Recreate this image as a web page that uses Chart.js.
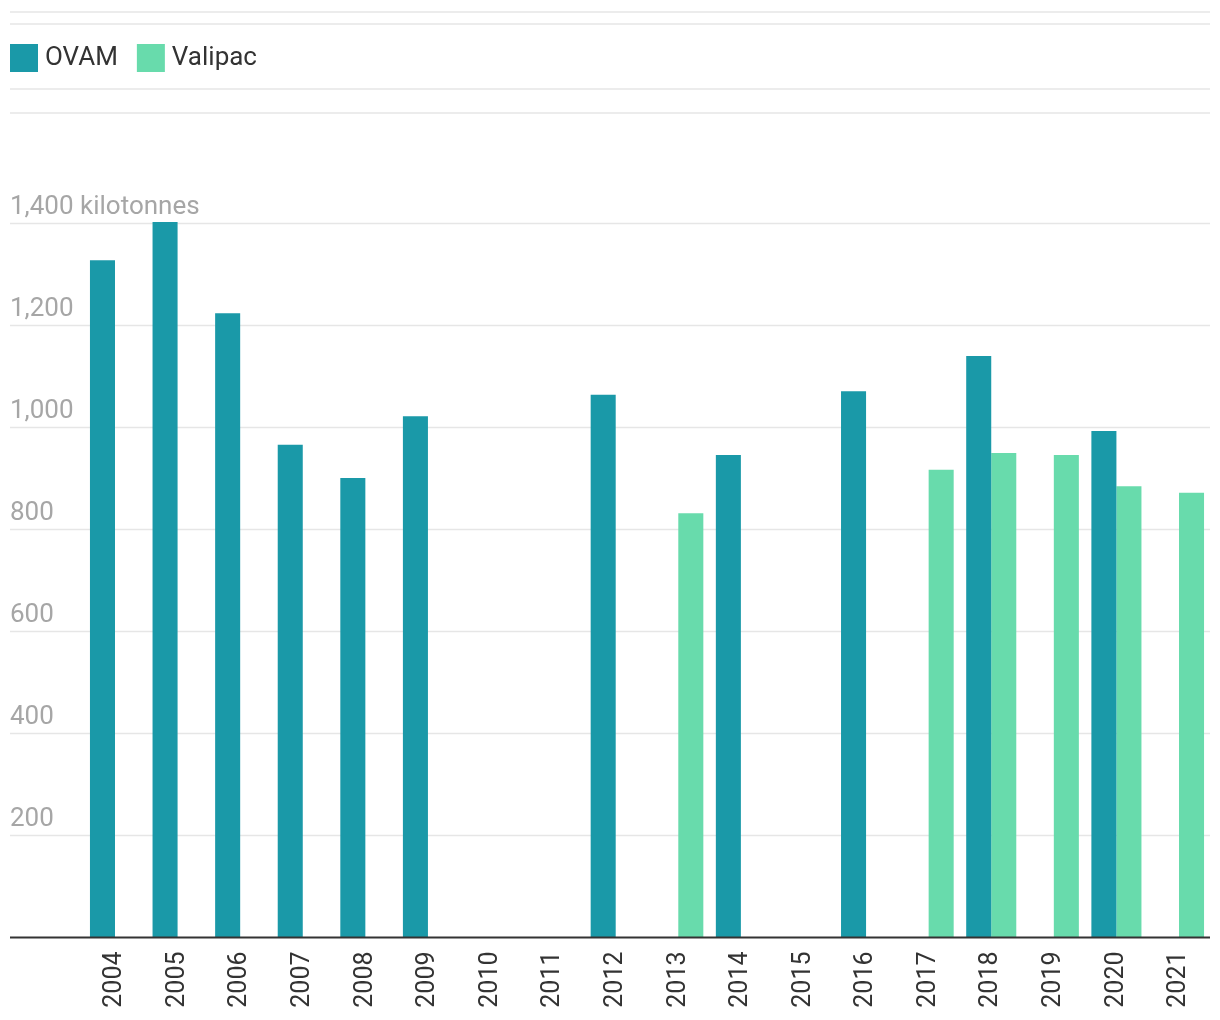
<!DOCTYPE html>
<html>
<head>
<meta charset="utf-8">
<script src="https://cdn.jsdelivr.net/npm/chart.js@4/dist/chart.umd.min.js"></script>
<style>
  html, body { margin: 0; padding: 0; background: #fff; }
  #wrap { width: 1220px; height: 1020px; position: relative; }
</style>
</head>
<body>
<div id="wrap"><canvas id="c" width="1220" height="1020"></canvas></div>
<script>
const categories = ['2004','2005','2006','2007','2008','2009','2010','2011','2012','2013','2014','2015','2016','2017','2018','2019','2020','2021'];
const ovamValues = [1328, 1403, 1224, 966, 901, 1022, null, null, 1064, null, 946, null, 1071, null, 1140, null, 993, null];
const valipacValues = [null, null, null, null, null, null, null, null, null, 832, null, null, null, 917, 950, 946, 885, 872];
const yTickValues = [200, 400, 600, 800, 1000, 1200, 1400];
const yTickLabels = ['200', '400', '600', '800', '1,000', '1,200', '1,400 kilotonnes'];
const seriesNames = ['OVAM', 'Valipac'];
const seriesColors = ['#1a99a8', '#68dbac'];

const FONT = 'Roboto, "Noto Sans", sans-serif';

const decorPlugin = {
  id: 'decor',
  beforeDraw(chart) {
    const ctx = chart.ctx;
    const y = chart.scales.y;
    const left = 10, right = 1210;
    ctx.save();
    ctx.strokeStyle = '#e6e6e6';
    ctx.lineWidth = 1.5;
    [12, 24, 89, 113].forEach(py => {
      ctx.beginPath(); ctx.moveTo(left, py); ctx.lineTo(right, py); ctx.stroke();
    });
    yTickValues.forEach(v => {
      const py = y.getPixelForValue(v);
      ctx.beginPath(); ctx.moveTo(left, py); ctx.lineTo(right, py); ctx.stroke();
    });
    // legend
    ctx.font = '26px ' + FONT;
    ctx.textBaseline = 'alphabetic';
    let lx = 10;
    seriesNames.forEach((name, i) => {
      ctx.fillStyle = seriesColors[i];
      ctx.fillRect(lx, 44, 28, 28);
      ctx.fillStyle = '#333333';
      ctx.fillText(name, lx + 35, 65);
      lx += 35 + ctx.measureText(name).width + 19;
    });
    ctx.restore();
  },
  afterDatasetsDraw(chart) {
    const ctx = chart.ctx;
    const y = chart.scales.y;
    ctx.save();
    ctx.font = '26px ' + FONT;
    ctx.fillStyle = '#a6a6a6';
    ctx.textBaseline = 'alphabetic';
    ctx.textAlign = 'left';
    yTickValues.forEach((v, i) => {
      const py = y.getPixelForValue(v);
      ctx.fillText(yTickLabels[i], 10, py - 10);
    });
    const p0 = y.getPixelForValue(0);
    ctx.strokeStyle = '#333333';
    ctx.lineWidth = 2;
    ctx.beginPath(); ctx.moveTo(10, p0); ctx.lineTo(1210, p0); ctx.stroke();
    ctx.restore();
  }
};

new Chart(document.getElementById('c'), {
  type: 'bar',
  data: {
    labels: categories,
    datasets: [
      { label: seriesNames[0], data: ovamValues, backgroundColor: seriesColors[0], borderWidth: 0, clip: false },
      { label: seriesNames[1], data: valipacValues, backgroundColor: seriesColors[1], borderWidth: 0, clip: false }
    ]
  },
  options: {
    responsive: false,
    animation: false,
    devicePixelRatio: 1,
    layout: { padding: { top: 223.5, left: 83.7, right: 9.7, bottom: 0 } },
    datasets: { bar: { categoryPercentage: 0.8, barPercentage: 1.0, skipNull: false } },
    plugins: { legend: { display: false }, tooltip: { enabled: false } },
    scales: {
      x: {
        type: 'category',
        offset: true,
        grid: { display: false, drawTicks: false },
        border: { display: false },
        ticks: {
          minRotation: 90, maxRotation: 90, autoSkip: false,
          padding: 14,
          color: '#333333',
          font: { family: FONT, size: 25 }
        },
        afterFit(scale) { scale.height = 82.5; scale.paddingLeft = 0; scale.paddingRight = 0; }
      },
      y: {
        display: false,
        min: 0, max: 1400,
        grid: { display: false }
      }
    }
  },
  plugins: [decorPlugin]
});
</script>
</body>
</html>
